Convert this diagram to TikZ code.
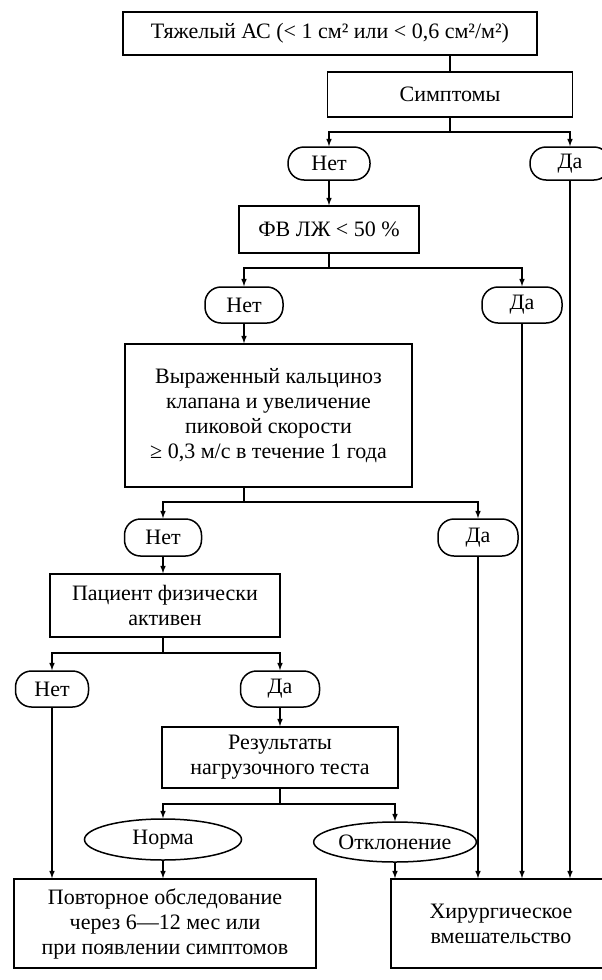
\documentclass[tikz,border=0pt]{standalone}
\usepackage{fontspec}
\setmainfont{Liberation Serif}
\usetikzlibrary{shapes.geometric}

\tikzstyle{block}=[draw,rectangle,align=center,inner sep=2pt]
\tikzstyle{answer}=[draw,rectangle,rounded corners=16pt,inner sep=2pt]
\tikzstyle{outcome}=[draw,ellipse,inner sep=1pt]
\tikzstyle{every path}=[line width=1.5pt]

\begin{document}
\begin{tikzpicture}[x=1pt,y=-1pt,font=\fontsize{22}{25}\selectfont]
			\useasboundingbox (0,0) rectangle (602,980);
			\begin{scope}[>=latex]
				\node (AS)[block, minimum width=414pt, minimum height=43pt]      at (330,33.5)  {Тяжелый АС (< 1 см² или < 0,6 см²/м²)};
				\node (symp)[block, minimum width=245pt, minimum height=45pt]    at (450,94.5)  {Симптомы};
				\node (net1)[answer, minimum width=82pt, minimum height=33pt]    at (329,163.5) {Нет};
				\node (da1)[answer, minimum width=80pt, minimum height=33pt]     at (570,163.5) {Да};
				\node (fv)[block, minimum width=180pt, minimum height=47pt]      at (329,229.5) {ФВ ЛЖ < 50 \%};
				\node (net2)[answer, minimum width=78pt, minimum height=36pt]    at (244,305)   {Нет};
				\node (da2)[answer, minimum width=80pt, minimum height=36pt]     at (522,305)   {Да};
				\node (calc)[block, minimum width=287pt, minimum height=143pt]   at (268.5,415.5)
					{Выраженный кальциноз\\клапана и увеличение\\пиковой скорости\\≥ 0,3 м/с в течение 1 года};
				\node (net3)[answer, minimum width=77pt, minimum height=37pt]    at (163,537.5) {Нет};
				\node (da3)[answer, minimum width=80pt, minimum height=37pt]     at (478,537.5) {Да};
				\node (active)[block, minimum width=230pt, minimum height=63pt]  at (165,605.5) {Пациент физически\\активен};
				\node (net4)[answer, minimum width=73pt, minimum height=36pt]    at (52,689)    {Нет};
				\node (da4)[answer, minimum width=79pt, minimum height=36pt]     at (280,689)   {Да};
				\node (test)[block, minimum width=236pt, minimum height=61pt]    at (280,757.5) {Результаты\\нагрузочного теста};
				\node (norm)[outcome, minimum width=157pt, minimum height=41pt]  at (163,839.5) {Норма};
				\node (dev)[outcome, minimum width=161pt, minimum height=40pt]   at (395,842)   {Отклонение};
				\node (repeat)[block, minimum width=302pt, minimum height=89pt]  at (165,923.5)
					{Повторное обследование\\через 6—12 мес или\\при появлении симптомов};
				\node (surg)[block, minimum width=220pt, minimum height=89pt]    at (501,923.5) {Хирургическое\\вмешательство};

				\coordinate (j1) at (450,132);
				\coordinate (j2) at (329,268);
				\coordinate (j3) at (244,502);
				\coordinate (j4) at (163,653);
				\coordinate (j5) at (280,804);

				\draw (AS.south -| symp) -- (symp);
				\draw (symp) -- (j1);
				\draw[->] (j1) -| (net1);
				\draw[->] (j1) -| (da1);

				\draw[->] (net1) -- (fv);
				\draw (fv) -- (j2);
				\draw[->] (j2) -| (net2);
				\draw[->] (j2) -| (da2);

				\draw[->] (net2) -- (net2 |- calc.north);
				\draw (calc.south -| j3) -- (j3);
				\draw[->] (j3) -| (net3);
				\draw[->] (j3) -| (da3);

				\draw[->] (net3) -- (net3 |- active.north);
				\draw (active.south -| j4) -- (j4);
				\draw[->] (j4) -| (net4);
				\draw[->] (j4) -| (da4);

				\draw[->] (da4) -- (test);
				\draw (test) -- (j5);
				\draw[->] (j5) -| (norm);
				\draw[->] (j5) -| (dev);

				\draw[->] (net4) -- (net4 |- repeat.north);
				\draw[->] (norm) -- (norm |- repeat.north);
				\draw[->] (dev) -- (dev |- surg.north);
				\foreach \yes in {da1, da2, da3}{
					\draw[->] (\yes) -- (\yes |- surg.north);
				}
			\end{scope}
		\end{tikzpicture}
\end{document}
